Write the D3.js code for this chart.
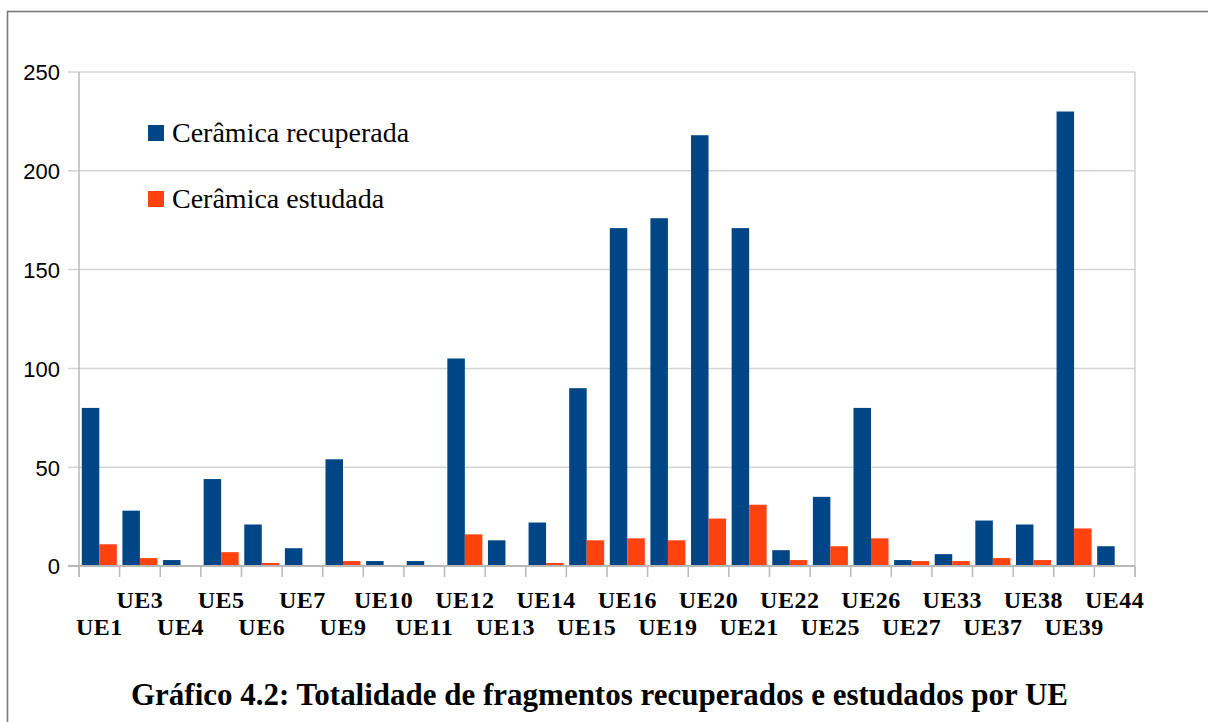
<!DOCTYPE html>
<html>
<head>
<meta charset="utf-8">
<script src="https://cdn.jsdelivr.net/npm/d3@7"></script>
<style>
html,body{margin:0;padding:0;background:#fff;}
svg{display:block;}
</style>
</head>
<body>
<svg id="chart" width="1208" height="722"></svg>
<script>
const categories = ["UE1","UE3","UE4","UE5","UE6","UE7","UE9","UE10","UE11","UE12","UE13","UE14","UE15","UE16","UE19","UE20","UE21","UE22","UE25","UE26","UE27","UE33","UE37","UE38","UE39","UE44"];
const recuperada = [80,28,3,44,21,9,54,2.5,2.5,105,13,22,90,171,176,218,171,8,35,80,3,6,23,21,230,10];
const estudada   = [11,4,0,7,1.5,0,2.5,0,0,16,0,1.5,13,14,13,24,31,3,10,14,2.5,2.5,4,3,19,0];
const seriesNames = ["Cerâmica recuperada","Cerâmica estudada"];
const seriesColors = ["#004586","#ff420e"];
const yTicks = [0,50,100,150,200,250];
const titleText = "Gráfico 4.2: Totalidade de fragmentos recuperados e estudados por UE";

const svg = d3.select("#chart");
const L = 79, R = 1135, T = 72, B = 566;
const serif = "'Liberation Serif','Times New Roman',serif";

// outer frame (top and left only visible)
svg.append("rect").attr("x",7.5).attr("y",11.5).attr("width",1300).attr("height",800)
  .attr("fill","none").attr("stroke","#7a7a7a").attr("stroke-width",1.6);

const x = d3.scaleBand().domain(categories).range([L,R]).paddingInner(0).paddingOuter(0);
const xs = d3.scaleBand().domain([0,1]).range([0,x.bandwidth()]).paddingInner(0).paddingOuter(0.16);
const y = d3.scaleLinear().domain([0,250]).range([B,T]);

// gridlines
svg.append("g").selectAll("line").data(yTicks).join("line")
  .attr("x1",L-11).attr("x2",R).attr("y1",d=>y(d)).attr("y2",d=>y(d))
  .attr("stroke","#d4d4d4").attr("stroke-width",1.5);
// right line
svg.append("line").attr("x1",R).attr("x2",R).attr("y1",T).attr("y2",B+11)
  .attr("stroke","#d0d0d0").attr("stroke-width",1.5);
// y axis line
svg.append("line").attr("x1",L).attr("x2",L).attr("y1",T).attr("y2",B+11)
  .attr("stroke","#b8b8b8").attr("stroke-width",1.5);

// y axis labels
const yAxis = d3.axisLeft(y).tickValues(yTicks).tickSize(0).tickPadding(0);
const ga = svg.append("g").attr("transform",`translate(${L-19},0)`).call(yAxis);
ga.select(".domain").remove();
ga.selectAll("text").attr("font-family","'Liberation Sans', Arial, sans-serif")
  .attr("font-size",22).attr("fill","#000").attr("dy","0.36em");

// bars
const groups = svg.append("g").selectAll("g").data(categories).join("g")
  .attr("transform",d=>`translate(${x(d)},0)`);
groups.selectAll("rect").data((d,i)=>[recuperada[i],estudada[i]]).join("rect")
  .attr("x",(v,j)=>xs(j)).attr("width",xs.bandwidth())
  .attr("y",v=>y(v)).attr("height",v=>B-y(v))
  .attr("fill",(v,j)=>seriesColors[j]);

// x axis line and ticks
svg.append("line").attr("x1",L-11).attr("x2",R).attr("y1",B).attr("y2",B)
  .attr("stroke","#b8b8b8").attr("stroke-width",1.8);
const tickPos = categories.map(c=>x(c)).concat([R]);
svg.append("g").selectAll("line").data(tickPos).join("line")
  .attr("x1",d=>d).attr("x2",d=>d).attr("y1",B).attr("y2",B+11)
  .attr("stroke","#b8b8b8").attr("stroke-width",1.5);

// x labels, staggered
svg.append("g").selectAll("text").data(categories).join("text")
  .attr("x",d=>x(d)+x.bandwidth()/2)
  .attr("y",(d,i)=> i%2===0 ? 635 : 608)
  .attr("text-anchor","middle")
  .attr("font-family",serif)
  .attr("font-weight","bold").attr("font-size",24).attr("fill","#000")
  .attr("letter-spacing","0.5px")
  .text(d=>d);

// legend
const leg = svg.append("g");
seriesNames.forEach((n,i)=>{
  const ly = 125 + i*66;
  leg.append("rect").attr("x",148).attr("y",ly).attr("width",16).attr("height",16).attr("fill",seriesColors[i]);
  leg.append("text").attr("x",172).attr("y",ly+17)
    .attr("font-family",serif)
    .attr("font-size",28).attr("fill","#000").text(n);
});

// title
svg.append("text").attr("x",131).attr("y",705)
  .attr("font-family",serif)
  .attr("font-weight","bold").attr("font-size",31).attr("fill","#000")
  .attr("textLength",937).attr("lengthAdjust","spacingAndGlyphs")
  .text(titleText);
</script>
</body>
</html>
